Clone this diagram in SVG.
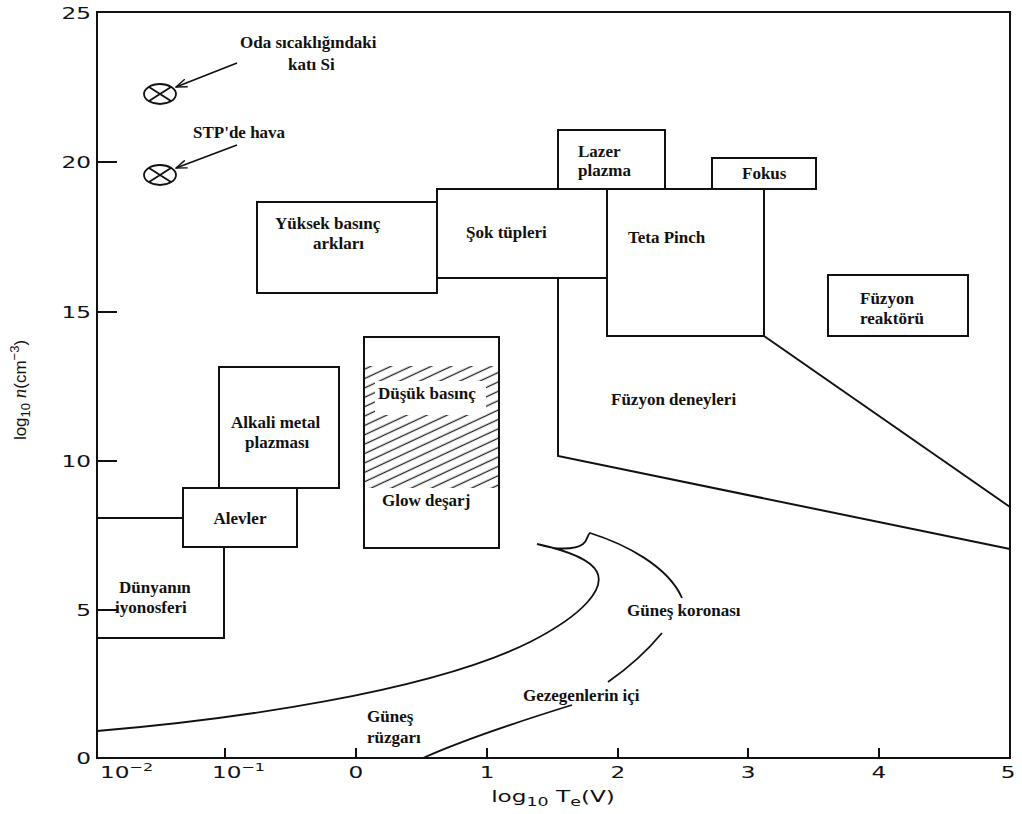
<svg xmlns="http://www.w3.org/2000/svg" width="1022" height="814" viewBox="0 0 1022 814">
<style>
.ln{fill:none;stroke:#111;stroke-width:2}
.cv{fill:none;stroke:#111;stroke-width:1.8}
.lb{font-family:"Liberation Serif","Times New Roman",serif;font-weight:bold;font-size:17px;fill:#111}
.ax{font-family:"DejaVu Sans","Liberation Sans",sans-serif;font-size:16px;fill:#111}
.at{font-family:"Liberation Sans","Arial",sans-serif;font-size:17px;fill:#111}
</style>
<defs>
<marker id="arr" markerWidth="12" markerHeight="10" refX="11" refY="5" orient="auto" markerUnits="userSpaceOnUse">
<path d="M0,1 L11,5 L0,9" fill="none" stroke="#111" stroke-width="1.4"/>
</marker>
<pattern id="hatch" patternUnits="userSpaceOnUse" width="10" height="8.5" patternTransform="rotate(-25)">
<line x1="0" y1="4.2" x2="10" y2="4.2" stroke="#222" stroke-width="1.3"/>
</pattern>
</defs>
<rect width="1022" height="814" fill="#fff"/>

<g id="axes">
<path class="ln" d="M97,12 H1010 V758 H97 Z"/>
<path class="ln" d="M97,162 H117 M97,312 H117 M97,461 H117 M97,610 H117"/>
<path class="ln" d="M225,758 V748 M356,758 V748 M487,758 V748 M618,758 V748 M748,758 V748 M879,758 V748"/>
<g transform="scale(1.45,1)" class="ax">
<g text-anchor="end">
<text x="62.8" y="19">25</text>
<text x="62.8" y="168">20</text>
<text x="62.8" y="318">15</text>
<text x="62.8" y="467">10</text>
<text x="62.8" y="616">5</text>
<text x="62.8" y="764">0</text>
</g>
<text x="69" y="778">10<tspan font-size="11" dy="-7">−2</tspan></text>
<text x="146.2" y="778">10<tspan font-size="11" dy="-7">−1</tspan></text>
<g text-anchor="middle">
<text x="245.5" y="778">0</text>
<text x="335.9" y="778">1</text>
<text x="426.2" y="778">2</text>
<text x="515.9" y="778">3</text>
<text x="606.2" y="778">4</text>
<text x="695.2" y="778">5</text>
</g>
<text x="381.4" y="802" text-anchor="middle">log<tspan font-size="12" dy="4">10</tspan><tspan dy="-4"> T</tspan><tspan font-size="12" dy="4">e</tspan><tspan dy="-4">(V)</tspan></text>
</g>
<text class="at" transform="translate(26,390) rotate(-90)" text-anchor="middle" font-size="18">log<tspan font-size="13" dy="4">10</tspan><tspan dy="-4" font-family="Liberation Serif" font-style="italic" font-size="19"> n</tspan>(cm<tspan font-size="13" dy="-7">−3</tspan><tspan dy="7">)</tspan></text>
</g>

<g id="connectors">
<line class="cv" x1="237" y1="63" x2="176" y2="87" marker-end="url(#arr)" stroke-width="1.4"/>
<line class="cv" x1="237" y1="145" x2="176" y2="168" marker-end="url(#arr)" stroke-width="1.4"/>
<path class="ln" d="M558,278 V456 L1010,549"/>
<path class="ln" d="M764,336 L1010,507"/>
<path class="ln" d="M97,518 H183"/>
</g>

<g id="node-si">
<ellipse class="cv" cx="160" cy="94" rx="16" ry="10"/>
<path class="cv" d="M149,87 L171,101 M149,101 L171,87" stroke-width="1.5"/>
<text class="lb" x="240" y="48">Oda sıcaklığındaki</text>
<text class="lb" x="288" y="70">katı Si</text>
</g>
<g id="node-air">
<ellipse class="cv" cx="160" cy="175" rx="16" ry="10"/>
<path class="cv" d="M149,168 L171,182 M149,182 L171,168" stroke-width="1.5"/>
<text class="lb" x="193" y="138">STP'de hava</text>
</g>

<g id="node-yuksek">
<rect class="ln" x="257" y="202" width="180" height="91"/>
<text class="lb" x="275" y="229">Yüksek basınç</text>
<text class="lb" x="313" y="249">arkları</text>
</g>
<g id="node-sok">
<rect class="ln" x="437" y="189" width="170" height="89"/>
<text class="lb" x="466" y="238">Şok tüpleri</text>
</g>
<g id="node-lazer">
<rect class="ln" x="558" y="130" width="107" height="59"/>
<text class="lb" x="578" y="157">Lazer</text>
<text class="lb" x="578" y="176">plazma</text>
</g>
<g id="node-fokus">
<rect class="ln" x="712" y="158" width="104" height="31"/>
<text class="lb" x="742" y="179">Fokus</text>
</g>
<g id="node-teta">
<rect class="ln" x="607" y="189" width="157" height="147"/>
<text class="lb" x="628" y="243">Teta Pinch</text>
</g>
<g id="node-reaktor">
<rect class="ln" x="828" y="275" width="140" height="61"/>
<text class="lb" x="860" y="304">Füzyon</text>
<text class="lb" x="860" y="324">reaktörü</text>
</g>
<g id="node-deneyleri">
<text class="lb" x="611" y="405">Füzyon deneyleri</text>
</g>
<g id="node-alkali">
<rect class="ln" x="219" y="367" width="120" height="121"/>
<text class="lb" x="231" y="428">Alkali metal</text>
<text class="lb" x="245" y="448">plazması</text>
</g>
<g id="node-alevler">
<rect class="ln" x="183" y="488" width="114" height="59"/>
<text class="lb" x="240" y="524" text-anchor="middle">Alevler</text>
</g>
<g id="node-iyonosfer">
<path class="ln" d="M224,547 V638 H97"/>
<text class="lb" x="119" y="593">Dünyanın</text>
<text class="lb" x="115" y="613">iyonosferi</text>
</g>
<g id="node-glow">
<rect x="364" y="366" width="135" height="122" fill="url(#hatch)"/>
<rect x="375" y="381" width="111" height="34" fill="#fff"/>
<rect class="ln" x="364" y="337" width="135" height="211"/>
<text class="lb" x="378" y="399">Düşük basınç</text>
<text class="lb" x="382" y="506">Glow deşarj</text>
</g>

<g id="node-corona">
<path class="cv" d="M97,731 C230,720 430,692 530,642 C585,614 605,588 597,572 C590,558 560,549 537,544 C555,550 575,550 583,544 C588,540 587,535 590,533 C625,544 668,566 682,598"/>
<text class="lb" x="627" y="616">Güneş koronası</text>
</g>
<g id="node-gezegen">
<path class="cv" d="M423,758 C470,737 530,718 572,705"/>
<path class="cv" d="M608,682 C628,668 648,650 662,633"/>
<text class="lb" x="523" y="701">Gezegenlerin içi</text>
</g>
<g id="node-ruzgar">
<text class="lb" x="367" y="722">Güneş</text>
<text class="lb" x="367" y="743">rüzgarı</text>
</g>
</svg>
